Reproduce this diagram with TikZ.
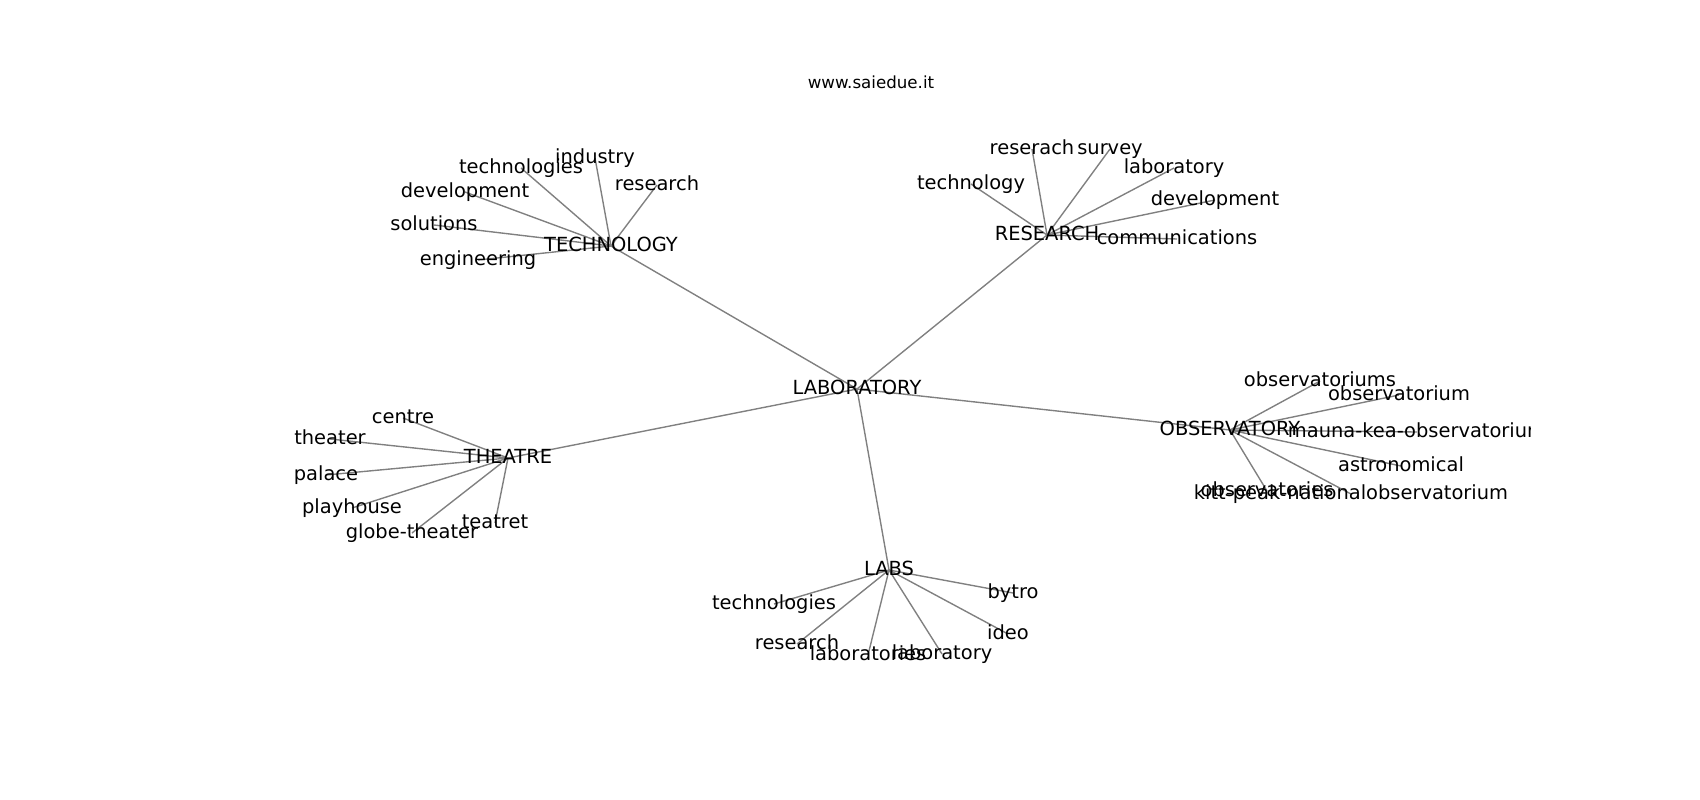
\documentclass[tikz,border=0pt]{standalone}
\usepackage{fontspec}
\setmainfont{DejaVu Sans}
\tikzset{
  word/.style={inner sep=0pt,text height=0.95em,text depth=0.1em,font=\fontsize{14bp}{17bp}\selectfont},
  headline/.style={inner sep=0pt,font=\fontsize{12bp}{14bp}\selectfont},
  link/.style={draw=black!50,line width=1bp},
}
\pgfdeclarelayer{back}
\pgfsetlayers{back,main}

\begin{document}
\begin{tikzpicture}[x=0.72bp,y=-0.72bp]
	    \useasboundingbox (0,0) rectangle (1700,800);
	    \node[headline] (title) at (871,82) {www.saiedue.it};
	    \begin{scope}
	    \clip (212.5,96) rectangle (1530,712);
	    \node[word] (lab) at (857,389) {LABORATORY};
	    % technology
	    \node[word] (tech) at (611,246) {TECHNOLOGY};
	    \node[word] (tech1) at (595,158) {industry};
	    \node[word] (tech2) at (521,168) {technologies};
	    \node[word] (tech3) at (657,185) {research};
	    \node[word] (tech4) at (465,192) {development};
	    \node[word] (tech5) at (434,225) {solutions};
	    \node[word] (tech6) at (478,260) {engineering};
	    % research
	    \node[word] (res) at (1047,235) {RESEARCH};
	    \node[word] (res1) at (1032,149) {reserach};
	    \node[word] (res2) at (1110,149) {survey};
	    \node[word] (res3) at (1174,168) {laboratory};
	    \node[word] (res4) at (971,184) {technology};
	    \node[word] (res5) at (1215,200) {development};
	    \node[word] (res6) at (1177,239) {communications};
	    % observatory
	    \node[word] (obs) at (1230,430) {OBSERVATORY};
	    \node[word] (obs1) at (1320,381) {observatoriums};
	    \node[word] (obs2) at (1399,395) {observatorium};
	    \node[word] (obs3) at (1417,432) {mauna-kea-observatorium};
	    \node[word] (obs4) at (1401,466) {astronomical};
	    \node[word] (obs5) at (1267,491) {observatories};
	    \node[word] (obs6) at (1351,494) {kitt-peak-nationalobservatorium};
	    % theatre
	    \node[word] (thea) at (508,458) {THEATRE};
	    \node[word] (thea1) at (403,418) {centre};
	    \node[word] (thea2) at (330,439) {theater};
	    \node[word] (thea3) at (326,475) {palace};
	    \node[word] (thea4) at (352,508) {playhouse};
	    \node[word] (thea5) at (412,533) {globe-theater};
	    \node[word] (thea6) at (495,523) {teatret};
	    % labs
	    \node[word] (labs) at (889,570) {LABS};
	    \node[word] (labs1) at (774,604) {technologies};
	    \node[word] (labs2) at (1013,593) {bytro};
	    \node[word] (labs3) at (797,644) {research};
	    \node[word] (labs4) at (1008,634) {ideo};
	    \node[word] (labs5) at (868,655) {laboratories};
	    \node[word] (labs6) at (942,654) {laboratory};
	    \end{scope}
	    \begin{pgfonlayer}{back}
	    \foreach \hub in {tech,res,obs,thea,labs}
	      \draw[link] (lab.center) -- (\hub.center);
	    \foreach \hub in {tech,res,obs,thea,labs}
	      \foreach \n in {1,...,6}
	        \draw[link] (\hub.center) -- (\hub\n.center);
	    \end{pgfonlayer}
	\end{tikzpicture}
\end{document}
